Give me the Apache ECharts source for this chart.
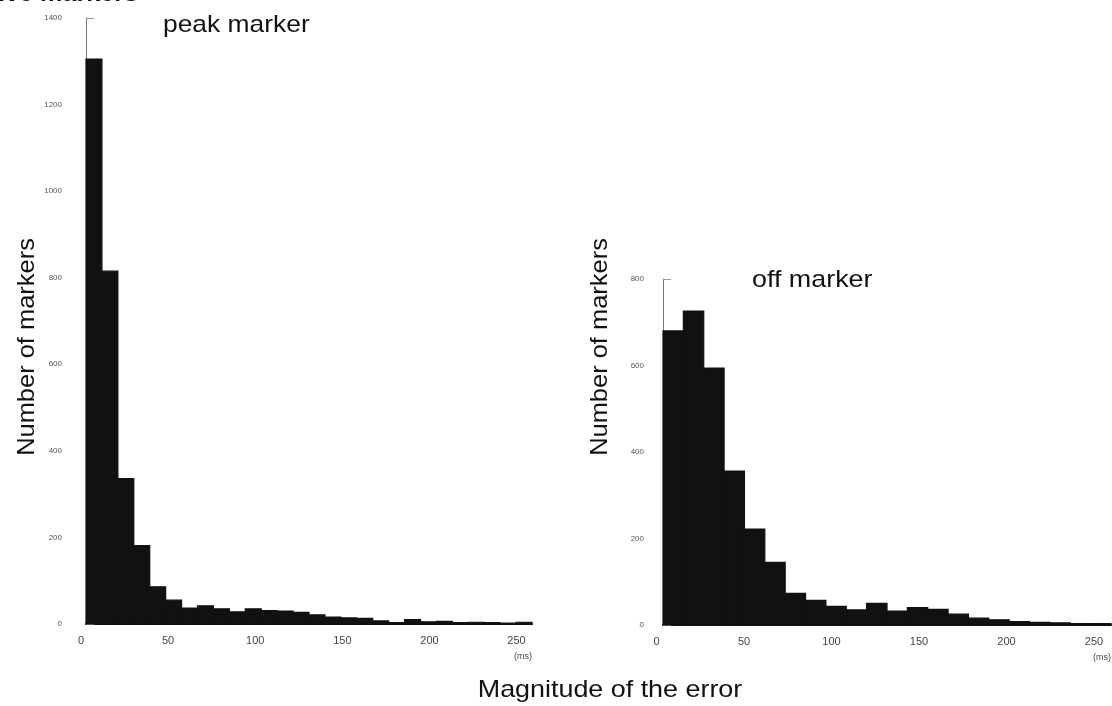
<!DOCTYPE html>
<html>
<head>
<meta charset="utf-8">
<script src="https://cdn.jsdelivr.net/npm/echarts@6/dist/echarts.min.js"></script>
<style>
html,body{margin:0;padding:0;background:#fff;}
#chart{width:1112px;height:706px;}
</style>
</head>
<body>
<div id="chart"></div>
<script>
// ---- data ----
const xRangeMs = 256;                 // extent of both time axes (ms)
const xTicks = [0, 50, 100, 150, 200, 250];
const peakYTicks = [0, 200, 400, 600, 800, 1000, 1200, 1400];
const offYTicks = [0, 200, 400, 600, 800];
const peakBinWidth = 256 / 28;        // ms per histogram bin (peak marker)
const offBinWidth = 256 / 22;         // ms per histogram bin (off marker)
const peakCounts = [1305, 815, 336, 181, 86, 55, 37, 42, 35, 28, 35, 31, 30, 27, 21, 16, 14, 13, 7, 3, 10, 5, 6, 3, 4, 3, 2, 4];
const offCounts = [680, 726, 594, 356, 222, 145, 73, 57, 43, 35, 50, 32, 40, 36, 25, 16, 12, 8, 6, 5, 3, 3];
const peakTitle = 'peak marker';
const offTitle = 'off marker';
const yName = 'Number of markers';
const xName = 'Magnitude of the error';
const unitName = '(ms)';
const cutTitle = 'ive markers';

function bins(counts, w) {
  return counts.map((c, i) => [i * w, (i + 1) * w, c]);
}

const FONT = '"Liberation Sans", Arial, Helvetica, sans-serif';

function renderBin(params, api) {
  const p0 = api.coord([api.value(0), api.value(2)]);
  const p1 = api.coord([api.value(1), 0]);
  return {
    type: 'rect',
    shape: { x: p0[0], y: p0[1], width: p1[0] - p0[0], height: p1[1] - p0[1] },
    style: { fill: '#111', stroke: '#111', lineWidth: 1.2 }
  };
}

function xAxisCfg(gridIndex, shift) {
  return {
    type: 'value', gridIndex, min: 0, max: xRangeMs, interval: 50,
    axisLine: { show: true, lineStyle: { color: '#111', width: 2 } },
    axisTick: { show: false },
    splitLine: { show: false },
    axisLabel: {
      show: true, showMaxLabel: false, color: '#444', fontSize: 11, fontFamily: FONT,
      margin: 11, padding: [0, shift, 0, 0],
      formatter: v => (xTicks.indexOf(v) >= 0 ? String(v) : '')
    },
    name: unitName, nameLocation: 'end', nameGap: 0,
    nameTextStyle: { color: '#444', fontSize: 9, fontFamily: FONT, align: 'right', verticalAlign: 'top', padding: [28, 0, 0, 0] }
  };
}

function yAxisCfg(gridIndex, max, ticks, margin) {
  return {
    type: 'value', gridIndex, min: 0, max, interval: 200,
    axisLine: { show: true, lineStyle: { color: '#777', width: 1 } },
    axisTick: { show: true, inside: true, length: 8, lineStyle: { color: '#999', width: 1 } },
    splitLine: { show: false },
    axisLabel: {
      color: '#555', fontSize: 8, fontFamily: FONT, margin,
      formatter: v => (ticks.indexOf(v) >= 0 ? String(v) : '')
    }
  };
}

function bigText(text, x, y, sx, extra) {
  return Object.assign({
    type: 'text', x, y, scaleX: sx,
    style: { text, fontSize: 24, fontFamily: FONT, fill: '#111', align: 'left', verticalAlign: 'middle' }
  }, extra || {});
}

const chart = echarts.init(document.getElementById('chart'), null, { renderer: 'canvas' });
chart.setOption({
  backgroundColor: '#fff',
  animation: false,
  grid: [
    { left: 86, top: 18, width: 446, height: 606 },
    { left: 663, top: 279, width: 449, height: 346 }
  ],
  xAxis: [xAxisCfg(0, 10), xAxisCfg(1, 13)],
  yAxis: [yAxisCfg(0, 1400, peakYTicks, 24), yAxisCfg(1, 800, offYTicks, 19)],
  series: [
    { type: 'custom', xAxisIndex: 0, yAxisIndex: 0, renderItem: renderBin,
      encode: { x: [0, 1], y: 2 }, data: bins(peakCounts, peakBinWidth) },
    { type: 'custom', xAxisIndex: 1, yAxisIndex: 1, renderItem: renderBin,
      encode: { x: [0, 1], y: 2 }, data: bins(offCounts, offBinWidth) }
  ],
  graphic: [
    bigText(peakTitle, 163, 25, 1.1),
    bigText(offTitle, 752, 280, 1.12),
    { type: 'text', x: 27, y: 347, rotation: Math.PI / 2, scaleX: 1.06,
      style: { text: yName, fontSize: 24, fontFamily: FONT, fill: '#111', align: 'center', verticalAlign: 'middle' } },
    { type: 'text', x: 600, y: 347, rotation: Math.PI / 2, scaleX: 1.06,
      style: { text: yName, fontSize: 24, fontFamily: FONT, fill: '#111', align: 'center', verticalAlign: 'middle' } },
    { type: 'text', x: 610, y: 690, scaleX: 1.12,
      style: { text: xName, fontSize: 24, fontFamily: FONT, fill: '#111', align: 'center', verticalAlign: 'middle' } },
    { type: 'text', x: -2, y: -6, scaleX: 1.05,
      style: { text: cutTitle, fontSize: 24, fontWeight: 'bold', fontFamily: FONT, fill: '#111', align: 'left', verticalAlign: 'middle' } }
  ]
});
</script>
</body>
</html>
